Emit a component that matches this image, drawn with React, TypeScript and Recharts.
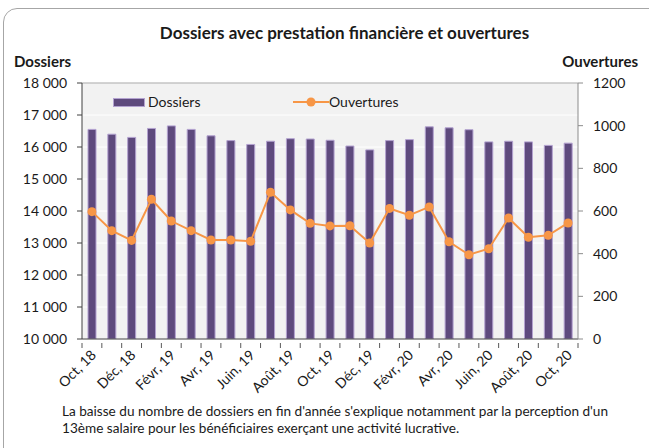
import React from 'react';
import { ComposedChart, Bar, Line, XAxis, YAxis, CartesianGrid, Legend, ReferenceLine } from 'recharts';

const months = [
  'Oct, 18', 'Nov, 18', 'Déc, 18', 'Janv, 19', 'Févr, 19', 'Mars, 19', 'Avr, 19', 'Mai, 19', 'Juin, 19',
  'Juil, 19', 'Août, 19', 'Sept, 19', 'Oct, 19', 'Nov, 19', 'Déc, 19', 'Janv, 20', 'Févr, 20', 'Mars, 20',
  'Avr, 20', 'Mai, 20', 'Juin, 20', 'Juil, 20', 'Août, 20', 'Sept, 20', 'Oct, 20',
];
const dossiers = [
  16550, 16400, 16300, 16580, 16660, 16550, 16350, 16200, 16080, 16180, 16260, 16250, 16210,
  16030, 15910, 16200, 16230, 16630, 16600, 16540, 16160, 16180, 16160, 16050, 16120,
];
const ouvertures = [
  597, 508, 462, 655, 553, 508, 464, 464, 458, 688, 605, 542, 530,
  531, 450, 612, 580, 619, 456, 395, 423, 567, 477, 486, 544,
];
const leftTicks = [10000, 11000, 12000, 13000, 14000, 15000, 16000, 17000, 18000];
const rightTicks = [0, 200, 400, 600, 800, 1000, 1200];

const data = months.map((m, i) => ({ month: m, dossiers: dossiers[i], ouvertures: ouvertures[i] }));

const FONT = 'Lato, "Open Sans", sans-serif';
const W = 649;
const H = 448;
const PLOT_LEFT = 82;
const PLOT_RIGHT = 578;
const HALF_BAND = (PLOT_RIGHT - PLOT_LEFT) / months.length / 2;

const fmt = (v: number) => String(v).replace(/\B(?=(\d{3})+(?!\d))/g, ' ');

const XTick = (props: any) => {
  const { x, y, payload, index } = props;
  const i = payload?.index ?? index;
  const last = i === months.length - 1;
  return (
    <g>
      <line x1={x - HALF_BAND} x2={x - HALF_BAND} y1={y - 4} y2={y + 1} stroke="#595959" />
      {last && <line x1={x + HALF_BAND} x2={x + HALF_BAND} y1={y - 4} y2={y + 1} stroke="#595959" />}
      {i % 2 === 0 && (
        <text
          x={x + 5}
          y={y + 9}
          textAnchor="end"
          transform={`rotate(-45, ${x + 5}, ${y + 9})`}
          fontSize={14}
          fill="#1a1a1a"
          fontFamily={FONT}
        >
          {payload.value}
        </text>
      )}
    </g>
  );
};

const LegendContent = () => (
  <div style={{ position: 'relative', width: 400, height: 0, overflow: 'visible', fontFamily: FONT, fontSize: 14, color: '#1a1a1a' }}>
    <div style={{ position: 'absolute', left: 0, top: 5, width: 30, height: 7, background: '#5E4A7D', border: '1px solid #B3A2D0' }} />
    <div style={{ position: 'absolute', left: 35, top: 0, lineHeight: '17px' }}>Dossiers</div>
    <svg style={{ position: 'absolute', left: 180, top: 0 }} width={36} height={20}>
      <line x1={0} x2={36} y1={9} y2={9} stroke="#F79646" strokeWidth={2} />
      <circle cx={18} cy={9} r={4.5} fill="#F79646" />
    </svg>
    <div style={{ position: 'absolute', left: 216, top: 0, lineHeight: '17px' }}>Ouvertures</div>
  </div>
);

export default function App() {
  return (
    <div style={{ position: 'absolute', left: 0, top: 0, width: W, height: H, background: '#fff', fontFamily: FONT, overflow: 'hidden' }}>
      <div style={{ position: 'absolute', left: 3, top: 8, width: 660, height: 460, border: '1px solid #a6a6a6', borderRadius: 14, boxSizing: 'border-box' }} />
      <div style={{ position: 'absolute', left: 0, width: W + 40, top: 22, textAlign: 'center', fontWeight: 700, fontSize: 17, color: '#1a1a1a' }}>
        Dossiers avec prestation financière et ouvertures
      </div>
      <div style={{ position: 'absolute', left: 14, top: 52, fontWeight: 700, fontSize: 15, color: '#1a1a1a' }}>Dossiers</div>
      <div style={{ position: 'absolute', right: 11, top: 52, fontWeight: 700, fontSize: 15, color: '#1a1a1a' }}>Ouvertures</div>
      <ComposedChart
        width={W}
        height={H}
        data={data}
        margin={{ top: 83, right: 0, bottom: 0, left: 0 }}
        barCategoryGap={0}
        style={{ position: 'absolute', left: 0, top: 0 }}
      >
        <CartesianGrid vertical={false} horizontal={true} stroke="#ffffff" fill="#F2F2F2" yAxisId="left" />
        <XAxis
          dataKey="month"
          interval={0}
          tick={<XTick />}
          tickLine={false}
          axisLine={{ stroke: '#404040' }}
          height={109}
        />
        <YAxis
          yAxisId="left"
          domain={[10000, 18000]}
          ticks={leftTicks}
          tickFormatter={fmt}
          width={PLOT_LEFT}
          tick={{ fontSize: 14, fill: '#1a1a1a', fontFamily: FONT }}
          tickLine={{ stroke: '#404040' }}
          tickSize={5}
          tickMargin={10}
          axisLine={{ stroke: '#404040' }}
          allowDataOverflow
        />
        <YAxis
          yAxisId="right"
          orientation="right"
          domain={[0, 1200]}
          ticks={rightTicks}
          width={W - PLOT_RIGHT}
          tick={{ fontSize: 14, fill: '#1a1a1a', fontFamily: FONT, textAnchor: 'start' }}
          tickLine={{ stroke: '#8c8c8c' }}
          tickSize={5}
          tickMargin={10}
          axisLine={{ stroke: '#8c8c8c' }}
        />
        <ReferenceLine yAxisId="left" y={18000} stroke="#a6a6a6" />
        <Legend
          verticalAlign="top"
          align="left"
          content={<LegendContent />}
          wrapperStyle={{ position: 'absolute', left: 113, top: 93, width: 400, height: 0 }}
        />
        <Bar
          yAxisId="left"
          dataKey="dossiers"
          name="Dossiers"
          fill="#5E4A7D"
          stroke="#B3A2D0"
          strokeWidth={1}
          barSize={8}
          isAnimationActive={false}
        />
        <Line
          yAxisId="right"
          dataKey="ouvertures"
          name="Ouvertures"
          stroke="#F79646"
          strokeWidth={2}
          dot={{ r: 4.5, fill: '#F79646', stroke: '#F79646', strokeWidth: 0 }}
          isAnimationActive={false}
        />
      </ComposedChart>
      <div style={{ position: 'absolute', left: 62, top: 403, fontSize: 13.6, lineHeight: '17px', color: '#1a1a1a', width: 590, whiteSpace: 'nowrap' }}>
        La baisse du nombre de dossiers en fin d'année s'explique notamment par la perception d'un<br />
        13ème salaire pour les bénéficiaires exerçant une activité lucrative.
      </div>
    </div>
  );
}
